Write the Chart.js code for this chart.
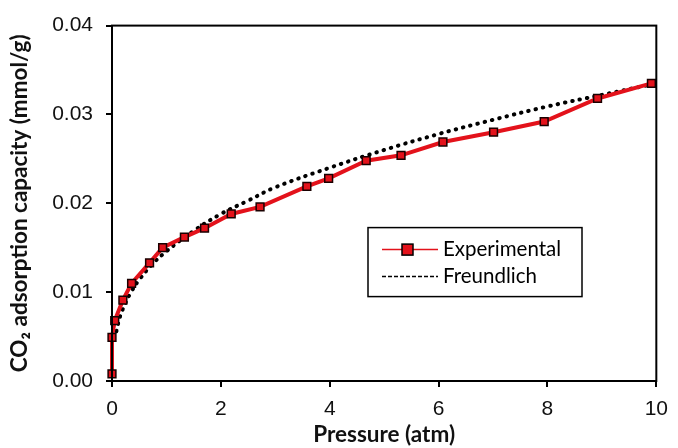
<!DOCTYPE html>
<html>
<head>
  <meta charset="utf-8">
  <title>CO2 adsorption isotherm</title>
  <script src="https://cdn.jsdelivr.net/npm/chart.js"></script>
  <style>
    body { margin: 0; background: #fff; }
    .chart-box { width: 678px; height: 448px; }
  </style>
</head>
<body>
  <div class="chart-box"><canvas id="isoChart"></canvas></div>
  <script>
    // Experimental points (pressure in atm, capacity in mmol/g)
    const expPressure = [0, 0, 0.05, 0.2, 0.36, 0.69, 0.93, 1.33, 1.70, 2.19, 2.72, 3.58, 3.98, 4.67, 5.31, 6.08, 7.01, 7.94, 8.92, 9.91];
    const expCapacity = [0.0008, 0.0049, 0.0068, 0.0091, 0.0110, 0.0133, 0.0150, 0.0162, 0.0172, 0.0188, 0.0196, 0.0219, 0.0228, 0.0248, 0.0254, 0.0269, 0.0280, 0.0292, 0.0318, 0.0335];

    // Freundlich fit curve, sampled from the dotted line
    const fitPressure = [0.08, 0.15, 0.25, 0.35, 0.5, 0.75, 1, 1.5, 2, 2.5, 3, 4, 5, 6, 7, 8, 9, 10];
    const fitCapacity = [0.0056, 0.0073, 0.0088, 0.0100, 0.0114, 0.0132, 0.0146, 0.0169, 0.0188, 0.0203, 0.0218, 0.0240, 0.0260, 0.0278, 0.0294, 0.0309, 0.0322, 0.0335];

    const xTicks = [0, 2, 4, 6, 8, 10];
    const yTicks = [0, 0.01, 0.02, 0.03, 0.04];

    const RED = '#e3121b';
    const textFont = 'Lato, "Open Sans", sans-serif';
    const tickFont = '"Liberation Sans", Arial, sans-serif';

    // frame round the plot area plus the boxed legend inside it
    const frameAndLegend = {
      id: 'frameAndLegend',
      afterDraw(chart) {
        const ctx = chart.ctx;
        const a = chart.chartArea;
        ctx.save();
        ctx.strokeStyle = '#000';
        ctx.lineWidth = 2;
        ctx.strokeRect(a.left, a.top, a.right - a.left, a.bottom - a.top);

        // legend box
        const bx = a.left + 256, by = a.top + 202, bw = 214, bh = 69;
        ctx.fillStyle = '#fff';
        ctx.fillRect(bx, by, bw, bh);
        ctx.lineWidth = 1.5;
        ctx.strokeRect(bx, by, bw, bh);

        // Experimental entry
        const y1 = by + 22, y2 = by + 49;
        ctx.strokeStyle = RED;
        ctx.lineWidth = 1.5;
        ctx.beginPath();
        ctx.moveTo(bx + 14, y1);
        ctx.lineTo(bx + 70, y1);
        ctx.stroke();
        ctx.fillStyle = RED;
        ctx.fillRect(bx + 34, y1 - 5.5, 11, 11);
        ctx.strokeStyle = '#000';
        ctx.lineWidth = 1.5;
        ctx.strokeRect(bx + 34, y1 - 5.5, 11, 11);

        // Freundlich entry
        ctx.setLineDash([4, 2]);
        ctx.beginPath();
        ctx.moveTo(bx + 14, y2);
        ctx.lineTo(bx + 70, y2);
        ctx.stroke();
        ctx.setLineDash([]);

        ctx.fillStyle = '#000';
        ctx.font = '20.5px ' + textFont;
        ctx.textBaseline = 'middle';
        ctx.fillText('Experimental', bx + 75, y1);
        ctx.fillText('Freundlich', bx + 75, y2);
        ctx.restore();
      }
    };

    new Chart(document.getElementById('isoChart'), {
      type: 'scatter',
      data: {
        datasets: [
          {
            label: 'Freundlich',
            data: fitPressure.map((p, i) => ({ x: p, y: fitCapacity[i] })),
            showLine: true,
            borderColor: '#000',
            borderWidth: 4,
            borderDash: [0.5, 7],
            borderCapStyle: 'round',
            pointRadius: 0,
            tension: 0.4,
            clip: false,
            order: 2
          },
          {
            label: 'Experimental',
            data: expPressure.map((p, i) => ({ x: p, y: expCapacity[i] })),
            showLine: true,
            borderColor: RED,
            borderWidth: 4,
            pointStyle: 'rect',
            pointRadius: 5.5,
            pointBackgroundColor: RED,
            pointBorderColor: '#1a0000',
            pointBorderWidth: 1.5,
            clip: false,
            order: 1
          }
        ]
      },
      options: {
        responsive: true,
        maintainAspectRatio: false,
        animation: false,
        layout: { padding: { left: 0, right: 18, top: 22, bottom: 0 } },
        plugins: {
          legend: { display: false },
          tooltip: { enabled: false }
        },
        scales: {
          x: {
            type: 'linear',
            min: 0,
            max: 10,
            afterBuildTicks: axis => { axis.ticks = xTicks.map(v => ({ value: v })); },
            afterFit: axis => { axis.height = 67; },
            grid: { drawOnChartArea: false, tickLength: 6, color: '#000', lineWidth: 2 },
            border: { color: '#000', width: 2 },
            ticks: { color: '#111', font: { family: tickFont, size: 21 }, padding: 10, maxRotation: 0 },
            title: {
              display: true,
              text: 'Pressure (atm)',
              color: '#111',
              font: { family: textFont, size: 22.5, weight: 'bold' },
              padding: { top: 0, bottom: 0 }
            }
          },
          y: {
            type: 'linear',
            min: 0,
            max: 0.04,
            afterBuildTicks: axis => { axis.ticks = yTicks.map(v => ({ value: v })); },
            afterFit: axis => { axis.width = 112; },
            grid: { drawOnChartArea: false, tickLength: 6, color: '#000', lineWidth: 2 },
            border: { color: '#000', width: 2 },
            ticks: {
              color: '#111',
              font: { family: tickFont, size: 21 },
              padding: 13,
              callback: v => v.toFixed(2)
            },
            title: {
              display: true,
              text: 'CO₂ adsorption capacity (mmol/g)',
              color: '#111',
              font: { family: textFont, size: 22.5, weight: 'bold' },
              padding: { top: 6, bottom: 0 }
            }
          }
        }
      },
      plugins: [frameAndLegend]
    });
  </script>
</body>
</html>
